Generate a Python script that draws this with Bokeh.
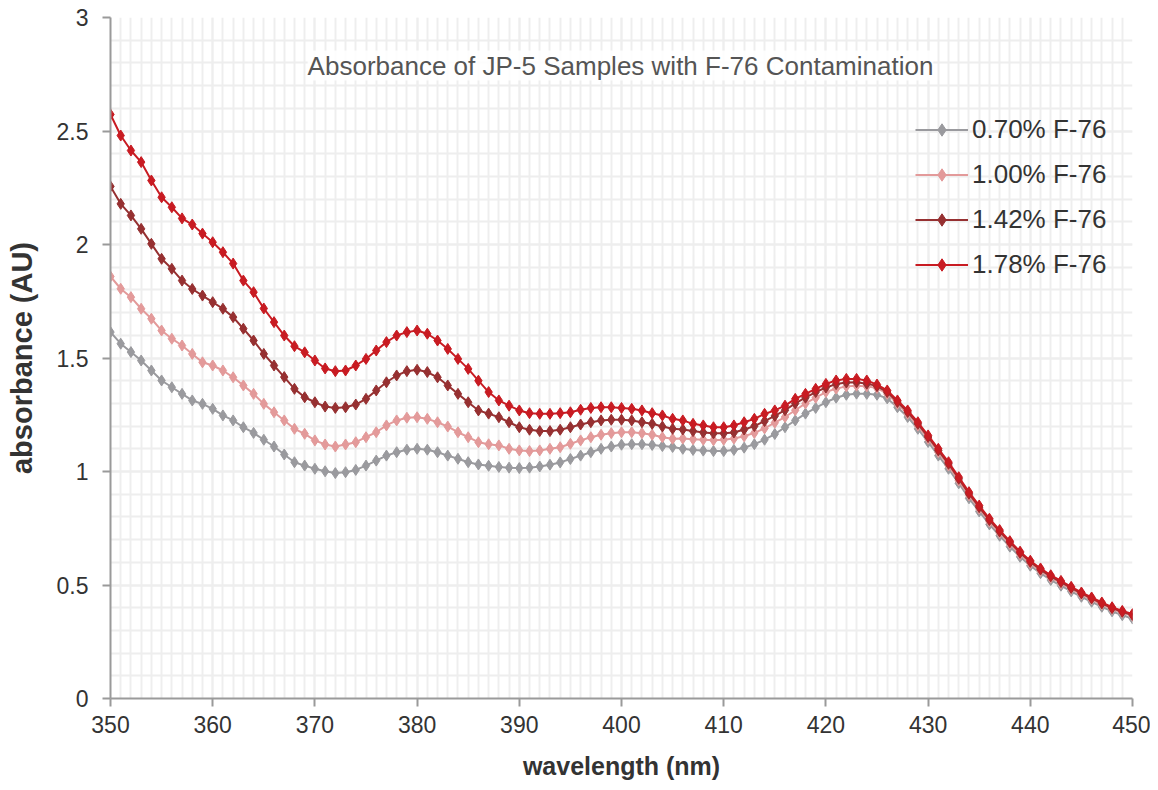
from bokeh.plotting import figure
from bokeh.models import SingleIntervalTicker, NumeralTickFormatter, Label, Range1d
from bokeh.embed import file_html
from bokeh.resources import INLINE

wavelength = list(range(350, 451))

s070 = [1.614, 1.563, 1.526, 1.489, 1.445, 1.401, 1.371, 1.342, 1.313, 1.298,
        1.276, 1.247, 1.225, 1.195, 1.17, 1.14, 1.11, 1.075, 1.041, 1.026,
        1.012, 1.001, 0.993, 0.997, 1.007, 1.026, 1.048, 1.07, 1.085, 1.096,
        1.1, 1.096, 1.085, 1.07, 1.056, 1.041, 1.031, 1.025, 1.02, 1.017,
        1.015, 1.017, 1.022, 1.03, 1.04, 1.055, 1.07, 1.085, 1.1, 1.11,
        1.118, 1.12, 1.12, 1.117, 1.112, 1.108, 1.10, 1.095, 1.092, 1.09,
        1.09, 1.095, 1.105, 1.12, 1.14, 1.165, 1.195, 1.225, 1.255, 1.28,
        1.305, 1.325, 1.338, 1.343, 1.342, 1.338, 1.322, 1.283, 1.24, 1.188,
        1.13, 1.07, 1.012, 0.948, 0.882, 0.824, 0.767, 0.717, 0.669, 0.624,
        0.585, 0.552, 0.522, 0.497, 0.472, 0.448, 0.426, 0.404, 0.384, 0.367,
        0.352]

s100 = [1.859, 1.805, 1.768, 1.717, 1.673, 1.621, 1.585, 1.555, 1.518, 1.481,
        1.467, 1.445, 1.415, 1.379, 1.342, 1.298, 1.261, 1.225, 1.188, 1.166,
        1.137, 1.119, 1.11, 1.119, 1.129, 1.151, 1.173, 1.203, 1.225, 1.237,
        1.239, 1.232, 1.217, 1.198, 1.173, 1.151, 1.129, 1.12, 1.115, 1.1,
        1.093, 1.09, 1.093, 1.1, 1.107, 1.122, 1.137, 1.151, 1.162, 1.169,
        1.173, 1.173, 1.169, 1.162, 1.151, 1.144, 1.145, 1.142, 1.14, 1.138,
        1.14, 1.145, 1.155, 1.17, 1.19, 1.215, 1.24, 1.27, 1.30, 1.325,
        1.35, 1.365, 1.375, 1.378, 1.375, 1.368, 1.342, 1.298, 1.254, 1.202,
        1.144, 1.085, 1.026, 0.96, 0.895, 0.836, 0.779, 0.729, 0.681, 0.635,
        0.595, 0.562, 0.532, 0.507, 0.482, 0.458, 0.436, 0.414, 0.394, 0.378,
        0.364]

s142 = [2.256, 2.179, 2.128, 2.069, 2.003, 1.937, 1.893, 1.841, 1.804, 1.775,
        1.746, 1.717, 1.68, 1.629, 1.577, 1.518, 1.467, 1.416, 1.364, 1.327,
        1.305, 1.286, 1.28, 1.283, 1.295, 1.32, 1.357, 1.393, 1.423, 1.442,
        1.448, 1.438, 1.415, 1.379, 1.342, 1.305, 1.269, 1.255, 1.239, 1.217,
        1.195, 1.184, 1.178, 1.178, 1.184, 1.195, 1.207, 1.217, 1.225, 1.228,
        1.228, 1.225, 1.217, 1.21, 1.198, 1.188, 1.185, 1.178, 1.172, 1.168,
        1.168, 1.172, 1.185, 1.20, 1.222, 1.245, 1.27, 1.30, 1.325, 1.35,
        1.37, 1.385, 1.392, 1.393, 1.387, 1.376, 1.35, 1.306, 1.262, 1.21,
        1.152, 1.093, 1.034, 0.968, 0.902, 0.843, 0.786, 0.736, 0.688, 0.642,
        0.602, 0.568, 0.538, 0.513, 0.487, 0.463, 0.441, 0.419, 0.398, 0.382,
        0.368]

s178 = [2.573, 2.48, 2.414, 2.363, 2.282, 2.208, 2.164, 2.115, 2.088, 2.048,
        2.01, 1.966, 1.916, 1.841, 1.79, 1.718, 1.658, 1.599, 1.552, 1.525,
        1.489, 1.454, 1.442, 1.445, 1.467, 1.496, 1.533, 1.57, 1.599, 1.614,
        1.621, 1.607, 1.577, 1.54, 1.496, 1.452, 1.40, 1.35, 1.313, 1.29,
        1.269, 1.257, 1.254, 1.254, 1.257, 1.261, 1.272, 1.28, 1.283, 1.283,
        1.28, 1.276, 1.269, 1.257, 1.247, 1.232, 1.225, 1.21, 1.203, 1.195,
        1.195, 1.203, 1.217, 1.232, 1.254, 1.269, 1.29, 1.32, 1.342, 1.364,
        1.386, 1.401, 1.408, 1.408, 1.401, 1.383, 1.357, 1.313, 1.269, 1.217,
        1.159, 1.10, 1.041, 0.975, 0.909, 0.85, 0.792, 0.742, 0.693, 0.647,
        0.607, 0.573, 0.543, 0.518, 0.492, 0.467, 0.445, 0.423, 0.402, 0.386,
        0.372]

series_labels = ["0.70% F-76", "1.00% F-76", "1.42% F-76", "1.78% F-76"]
series_values = [s070, s100, s142, s178]
series_colors = ["#9a9a9e", "#e39a9a", "#963031", "#c81b22"]

title_text = "Absorbance of JP-5 Samples with F-76 Contamination"
x_title = "wavelength (nm)"
y_title = "absorbance (AU)"

FONT = "Liberation Sans"

p = figure(width=1150, height=785, output_backend="svg", toolbar_location=None,
           x_range=Range1d(350, 450), y_range=Range1d(0, 3),
           min_border_left=110, min_border_right=18, min_border_top=17, min_border_bottom=87)
p.outline_line_color = None
p.background_fill_color = "white"

p.xaxis.ticker = SingleIntervalTicker(interval=10, num_minor_ticks=10)
p.yaxis.ticker = SingleIntervalTicker(interval=0.5, num_minor_ticks=5)
p.yaxis.formatter = NumeralTickFormatter(format="0.[0]")

for ax in (p.xaxis[0], p.yaxis[0]):
    ax.axis_line_color = "#9a9a9a"
    ax.axis_line_width = 2
    ax.major_tick_line_color = "#9a9a9a"
    ax.major_tick_line_width = 2
    ax.major_tick_out = 8
    ax.major_tick_in = 0
    ax.minor_tick_line_color = None
    ax.major_label_text_font = FONT
    ax.major_label_text_font_size = "23px"
    ax.major_label_text_color = "#333333"
    ax.axis_label_text_font = FONT
    ax.axis_label_text_font_style = "bold"
    ax.axis_label_text_color = "#333333"

p.xaxis.axis_label = x_title
p.yaxis.axis_label = y_title
p.xaxis.axis_label_text_font_size = "25px"
p.yaxis.axis_label_text_font_size = "29px"
p.xaxis.major_label_standoff = 9
p.yaxis.major_label_standoff = 14
p.xaxis.axis_label_standoff = 16
p.yaxis.axis_label_standoff = 16

for g in (p.xgrid[0], p.ygrid[0]):
    g.grid_line_color = "#eeeeee"
    g.grid_line_width = 2
    g.minor_grid_line_color = "#eeeeee"
    g.minor_grid_line_width = 2

for lab, vals, col in zip(series_labels, series_values, series_colors):
    p.line(wavelength, vals, line_color=col, line_width=2, legend_label=lab)
    p.scatter(wavelength, vals, marker="diamond", size=11, fill_color=col,
              line_color=col, legend_label=lab)

p.legend.location = (805, 418)
p.legend.background_fill_alpha = 0.0
p.legend.border_line_color = None
p.legend.label_text_font = FONT
p.legend.label_text_font_size = "26px"
p.legend.label_text_color = "#333333"
p.legend.glyph_width = 53
p.legend.glyph_height = 31
p.legend.label_height = 31
p.legend.spacing = 14
p.legend.label_standoff = 4
p.legend.margin = 0
p.legend.padding = 0

title = Label(x=510, y=633, x_units="screen", y_units="screen",
              text=title_text, text_font=FONT, text_font_size="26px",
              text_color="#555555", text_align="center", text_baseline="middle",
              background_fill_color="white", background_fill_alpha=0.85)
p.add_layout(title)

open("out.html", "w").write(file_html(p, INLINE))
